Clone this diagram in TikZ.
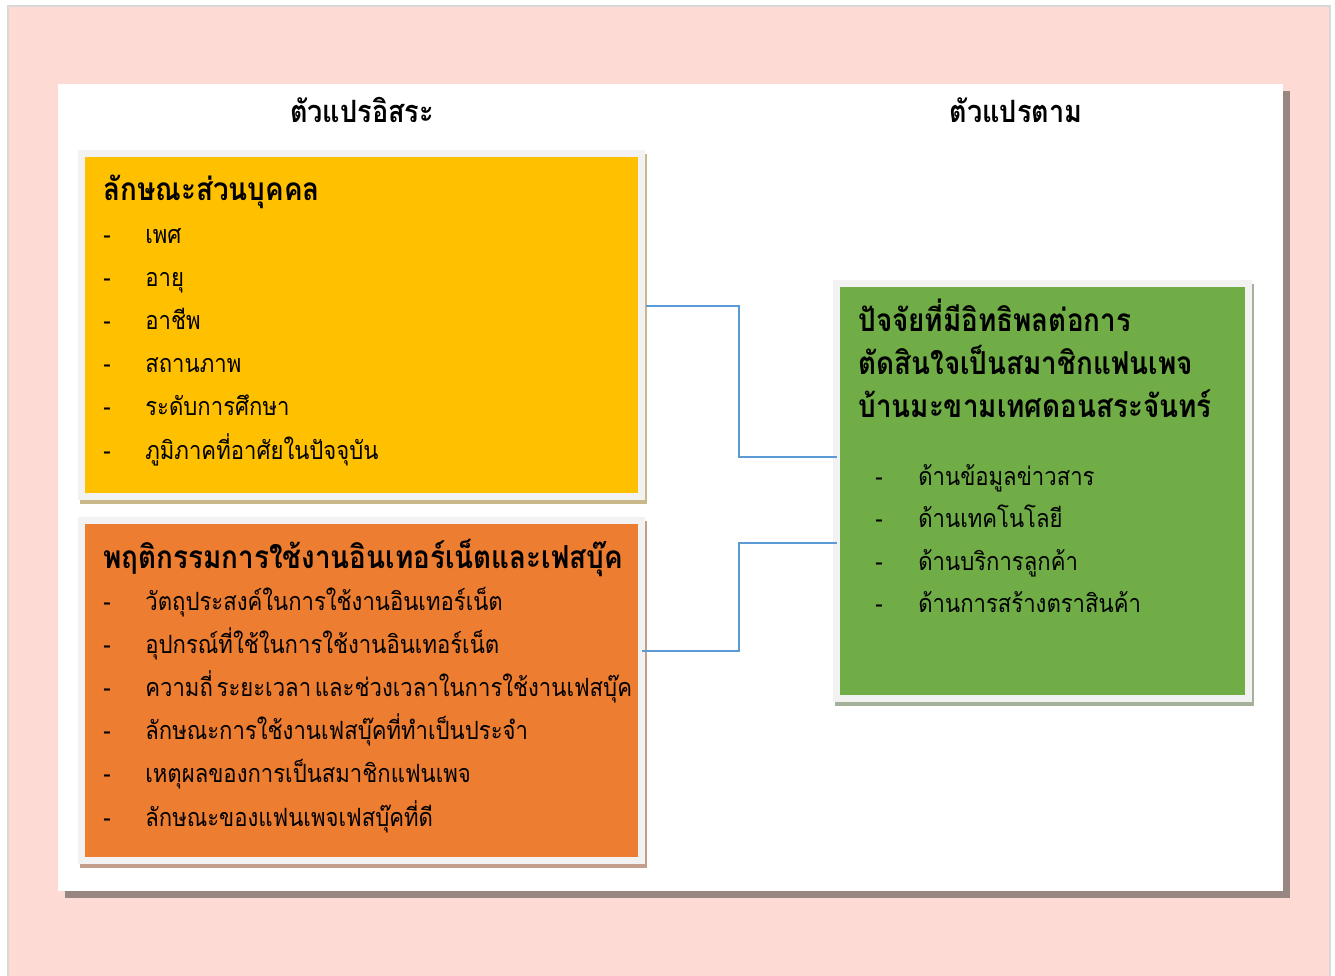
\documentclass[tikz,border=0pt]{standalone}
\usepackage{fontspec}
\setmainfont{Loma}[Script=Thai, FakeStretch=0.88, WordSpace=0.5]
\usetikzlibrary{calc}

\definecolor{pinkbg}{RGB}{253,218,211}
\definecolor{bordergray}{RGB}{216,216,216}
\definecolor{panelshade}{RGB}{152,134,128}
\definecolor{framegray}{RGB}{242,242,242}
\definecolor{persyellow}{RGB}{255,192,0}
\definecolor{behorange}{RGB}{237,125,49}
\definecolor{inflgreen}{RGB}{112,173,71}
\definecolor{yshade}{RGB}{200,184,138}
\definecolor{oshade}{RGB}{196,158,138}
\definecolor{gshade}{RGB}{165,178,155}
\definecolor{linkblue}{RGB}{91,155,213}

\pgfdeclarelayer{back}
\pgfdeclarelayer{card}
\pgfdeclarelayer{shade}
\pgfsetlayers{back,card,shade,main}

\begin{document}
\begin{tikzpicture}[x=0.02cm, y=-0.02cm,
	box/.style={rectangle, draw=framegray, line width=0.14cm, inner sep=0pt},
	link/.style={draw=linkblue, line width=0.03cm},
	headtxt/.style={anchor=base, inner sep=0pt, font=\fontsize{17.5}{20}\selectfont\bfseries},
	titletxt/.style={anchor=base west, inner sep=0pt, font=\fontsize{18}{22}\selectfont\bfseries},
	itemtxt/.style={anchor=base west, inner sep=0pt, font=\fontsize{14.3}{18}\selectfont}]
	
	\useasboundingbox (0,0) rectangle (1335,976);
	
	\begin{pgfonlayer}{back}
		\fill[white] (0,0) rectangle (1335,976);
		\filldraw[fill=pinkbg, draw=bordergray, line width=0.05cm] (8,6) rectangle (1330,990);
	\end{pgfonlayer}
	
	\begin{pgfonlayer}{card}
		\node[fill=white, inner sep=0pt, outer sep=0pt, minimum width=24.5cm, minimum height=16.14cm] (panel) at (670.5,487.5) {};
	\end{pgfonlayer}
	\begin{pgfonlayer}{back}
		\fill[panelshade] ($(panel.south west)+(7,7)$) rectangle ($(panel.north east)+(7,7)$);
	\end{pgfonlayer}
	
	
	\node[box, fill=persyellow, minimum width=11.2cm, minimum height=6.86cm] (pers) at (361.5,325) {};
	\node[box, fill=behorange, minimum width=11.2cm, minimum height=6.8cm] (behav) at (361.5,690.5) {};
	\node[box, fill=inflgreen, minimum width=8.24cm, minimum height=8.3cm] (infl) at (1042.5,491) {};
	
	\begin{pgfonlayer}{shade}
		\fill[yshade] ($(pers.south west)+(2,4)$) rectangle ($(pers.north east)+(2,4)$);
		\fill[oshade] ($(behav.south west)+(2,4)$) rectangle ($(behav.north east)+(2,4)$);
		\fill[gshade] ($(infl.south west)+(2,4)$) rectangle ($(infl.north east)+(2,4)$);
	\end{pgfonlayer}
	
	
	\draw[link] ($(pers.east)+(1,-19)$) -- ++(93,0) |- ($(infl.west)+(4,-34)$);
	\draw[link] ($(behav.east)+(-3,-39.5)$) -- ++(97,0) |- ($(infl.west)+(4,52)$);
	
	
	\node[headtxt] (indep) at (362,123) {ตัวแปรอิสระ};
	\node[headtxt] (dep) at (1016,123) {ตัวแปรตาม};
	
	
	\node[titletxt] (pers-t) at (103,201) {ลักษณะส่วนบุคคล};
	\foreach \t [count=\i] in {เพศ, อายุ, อาชีพ, สถานภาพ, ระดับการศึกษา, ภูมิภาคที่อาศัยในปัจจุบัน} {
		\node[itemtxt] (pers-d\i) at (103,{244+43*(\i-1)}) {-};
		\node[itemtxt] (pers-\i) at (145,{244+43*(\i-1)}) {\t};
	}
	
	\node[titletxt] (behav-t) at (103,568) {พฤติกรรมการใช้งานอินเทอร์เน็ตและเฟสบุ๊ค};
	\foreach \t [count=\i] in {วัตถุประสงค์ในการใช้งานอินเทอร์เน็ต, อุปกรณ์ที่ใช้ในการใช้งานอินเทอร์เน็ต, ความถี่ ระยะเวลา และช่วงเวลาในการใช้งานเฟสบุ๊ค, ลักษณะการใช้งานเฟสบุ๊คที่ทำเป็นประจำ, เหตุผลของการเป็นสมาชิกแฟนเพจ, ลักษณะของแฟนเพจเฟสบุ๊คที่ดี} {
		\node[itemtxt] (behav-d\i) at (103,{610+43.2*(\i-1)}) {-};
		\node[itemtxt] (behav-\i) at (145,{610+43.2*(\i-1)}) {\t};
	}
	
	\foreach \t [count=\i] in {ปัจจัยที่มีอิทธิพลต่อการ, ตัดสินใจเป็นสมาชิกแฟนเพจ, บ้านมะขามเทศดอนสระจันทร์}
		\node[titletxt] (infl-t\i) at (858,{332+43*(\i-1)}) {\t};
	\foreach \t [count=\i] in {ด้านข้อมูลข่าวสาร, ด้านเทคโนโลยี, ด้านบริการลูกค้า, ด้านการสร้างตราสินค้า} {
		\node[itemtxt] (infl-d\i) at (875,{485+42.5*(\i-1)}) {-};
		\node[itemtxt] (infl-\i) at (918,{485+42.5*(\i-1)}) {\t};
	}
	
\end{tikzpicture}
\end{document}
